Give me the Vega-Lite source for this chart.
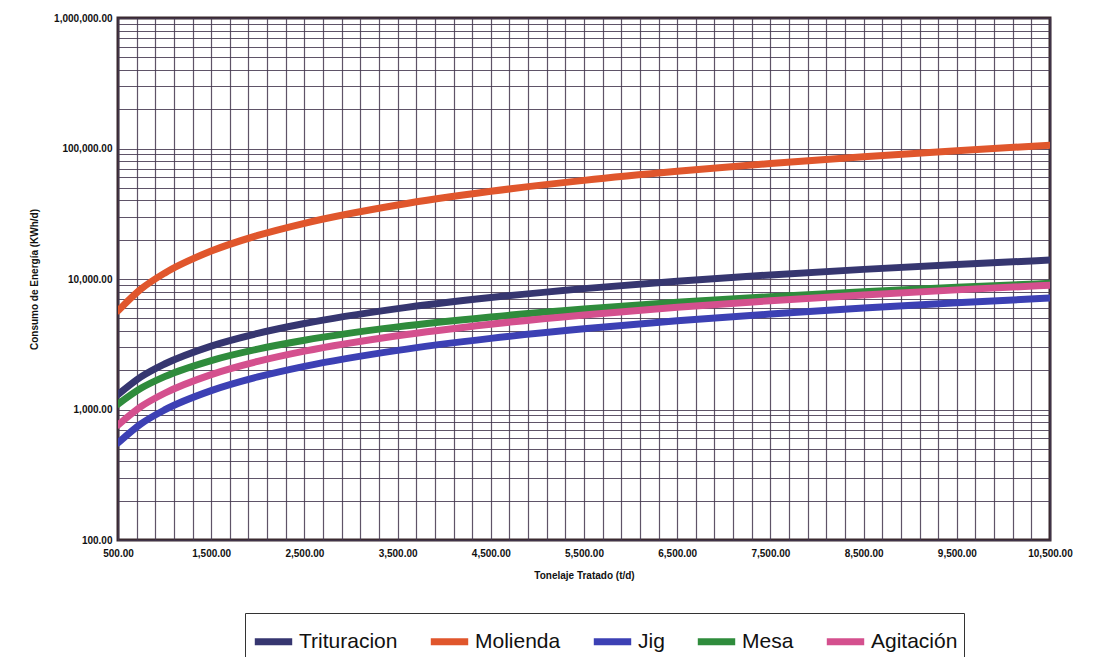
{
  "$schema": "https://vega.github.io/schema/vega-lite/v6.json",
  "autosize": "none",
  "width": 932,
  "height": 522,
  "padding": {"left": 118, "top": 18, "right": 44, "bottom": 117},
  "background": "white",
  "config": {
    "view": {"stroke": "#3a2a30", "strokeWidth": 3},
    "font": "Liberation Sans"
  },
  "data": {
    "values": [
      {"t": 500, "s": "Trituracion", "v": 1300}, {"t": 750, "s": "Trituracion", "v": 1784}, {"t": 1000, "s": "Trituracion", "v": 2232}, {"t": 1500, "s": "Trituracion", "v": 3063}, {"t": 2000, "s": "Trituracion", "v": 3833}, {"t": 2500, "s": "Trituracion", "v": 4562}, {"t": 3500, "s": "Trituracion", "v": 5931}, {"t": 4500, "s": "Trituracion", "v": 7215}, {"t": 5500, "s": "Trituracion", "v": 8438}, {"t": 6500, "s": "Trituracion", "v": 9612}, {"t": 7500, "s": "Trituracion", "v": 10748}, {"t": 8500, "s": "Trituracion", "v": 11850}, {"t": 9500, "s": "Trituracion", "v": 12922}, {"t": 10500, "s": "Trituracion", "v": 13975},
      {"t": 500, "s": "Molienda", "v": 5700}, {"t": 750, "s": "Molienda", "v": 8410}, {"t": 1000, "s": "Molienda", "v": 11090}, {"t": 1500, "s": "Molienda", "v": 16370}, {"t": 2000, "s": "Molienda", "v": 21570}, {"t": 2500, "s": "Molienda", "v": 26720}, {"t": 3500, "s": "Molienda", "v": 36910}, {"t": 4500, "s": "Molienda", "v": 46990}, {"t": 5500, "s": "Molienda", "v": 56970}, {"t": 6500, "s": "Molienda", "v": 66870}, {"t": 7500, "s": "Molienda", "v": 76720}, {"t": 8500, "s": "Molienda", "v": 86520}, {"t": 9500, "s": "Molienda", "v": 96270}, {"t": 10500, "s": "Molienda", "v": 105960},
      {"t": 500, "s": "Jig", "v": 554}, {"t": 750, "s": "Jig", "v": 779}, {"t": 1000, "s": "Jig", "v": 992}, {"t": 1500, "s": "Jig", "v": 1394}, {"t": 2000, "s": "Jig", "v": 1775}, {"t": 2500, "s": "Jig", "v": 2141}, {"t": 3500, "s": "Jig", "v": 2840}, {"t": 4500, "s": "Jig", "v": 3508}, {"t": 5500, "s": "Jig", "v": 4152}, {"t": 6500, "s": "Jig", "v": 4778}, {"t": 7500, "s": "Jig", "v": 5389}, {"t": 8500, "s": "Jig", "v": 5985}, {"t": 9500, "s": "Jig", "v": 6573}, {"t": 10500, "s": "Jig", "v": 7147},
      {"t": 500, "s": "Mesa", "v": 1100}, {"t": 750, "s": "Mesa", "v": 1461}, {"t": 1000, "s": "Mesa", "v": 1787}, {"t": 1500, "s": "Mesa", "v": 2373}, {"t": 2000, "s": "Mesa", "v": 2903}, {"t": 2500, "s": "Mesa", "v": 3394}, {"t": 3500, "s": "Mesa", "v": 4295}, {"t": 4500, "s": "Mesa", "v": 5121}, {"t": 5500, "s": "Mesa", "v": 5893}, {"t": 6500, "s": "Mesa", "v": 6624}, {"t": 7500, "s": "Mesa", "v": 7322}, {"t": 8500, "s": "Mesa", "v": 7993}, {"t": 9500, "s": "Mesa", "v": 8640}, {"t": 10500, "s": "Mesa", "v": 9265},
      {"t": 500, "s": "Agitación", "v": 760}, {"t": 750, "s": "Agitación", "v": 1056}, {"t": 1000, "s": "Agitación", "v": 1332}, {"t": 1500, "s": "Agitación", "v": 1851}, {"t": 2000, "s": "Agitación", "v": 2336}, {"t": 2500, "s": "Agitación", "v": 2799}, {"t": 3500, "s": "Agitación", "v": 3676}, {"t": 4500, "s": "Agitación", "v": 4505}, {"t": 5500, "s": "Agitación", "v": 5301}, {"t": 6500, "s": "Agitación", "v": 6069}, {"t": 7500, "s": "Agitación", "v": 6815}, {"t": 8500, "s": "Agitación", "v": 7542}, {"t": 9500, "s": "Agitación", "v": 8254}, {"t": 10500, "s": "Agitación", "v": 8953}
    ]
  },
  "mark": {"type": "line", "strokeWidth": 7, "interpolate": "monotone", "strokeCap": "round", "clip": true},
  "encoding": {
    "x": {
      "field": "t", "type": "quantitative",
      "scale": {"domain": [500, 10500], "nice": false, "zero": false},
      "axis": {
        "title": "Tonelaje Tratado (t/d)",
        "titleFont": "Liberation Sans", "titleFontSize": 10, "titleFontWeight": "bold", "titleColor": "#111", "titlePadding": 12,
        "values": [500,700,900,1100,1300,1500,1700,1900,2100,2300,2500,2700,2900,3100,3300,3500,3700,3900,4100,4300,4500,4700,4900,5100,5300,5500,5700,5900,6100,6300,6500,6700,6900,7100,7300,7500,7700,7900,8100,8300,8500,8700,8900,9100,9300,9500,9700,9900,10100,10300,10500],
        "labelExpr": "(datum.value - 500) % 1000 == 0 ? format(datum.value, ',.2f') : ''",
        "labelFlush": false,
        "labelFont": "Liberation Sans", "labelFontSize": 10, "labelFontWeight": "bold", "labelColor": "#111", "labelPadding": 8,
        "ticks": false, "domain": false,
        "grid": true, "gridColor": "#43364e", "gridWidth": 1.2, "gridOpacity": 0.85
      }
    },
    "y": {
      "field": "v", "type": "quantitative",
      "scale": {"type": "log", "domain": [100, 1000000], "nice": false},
      "axis": {
        "title": "Consumo de Energía (KWh/d)",
        "titleFont": "Liberation Sans", "titleFontSize": 10, "titleFontWeight": "bold", "titleColor": "#111", "titlePadding": 14,
        "values": [100,200,300,400,500,600,700,800,900,1000,2000,3000,4000,5000,6000,7000,8000,9000,10000,20000,30000,40000,50000,60000,70000,80000,90000,100000,200000,300000,400000,500000,600000,700000,800000,900000,1000000],
        "labelExpr": "indexof([100,1000,10000,100000,1000000], datum.value) >= 0 ? format(datum.value, ',.2f') : ''",
        "labelFlush": false,
        "labelFont": "Liberation Sans", "labelFontSize": 10, "labelFontWeight": "bold", "labelColor": "#111", "labelPadding": 6,
        "ticks": false, "domain": false,
        "grid": true, "gridColor": "#43364e", "gridWidth": 1.2, "gridOpacity": 0.85
      }
    },
    "color": {
      "field": "s", "type": "nominal",
      "scale": {
        "domain": ["Trituracion", "Molienda", "Jig", "Mesa", "Agitación"],
        "range": ["#363670", "#e0562c", "#3c40b4", "#2f8c3c", "#d4508e"]
      },
      "legend": {
        "title": null,
        "orient": "none",
        "legendX": 127,
        "legendY": 595,
        "direction": "horizontal",
        "symbolType": "stroke",
        "symbolSize": 1400,
        "symbolStrokeWidth": 7,
        "labelFont": "Liberation Sans",
        "labelFontSize": 21,
        "labelColor": "#111",
        "labelOffset": 3,
        "columnPadding": 18,
        "padding": 6,
        "strokeColor": "#333",
        "fillColor": "white",
        "labelLimit": 300
      }
    }
  }
}
